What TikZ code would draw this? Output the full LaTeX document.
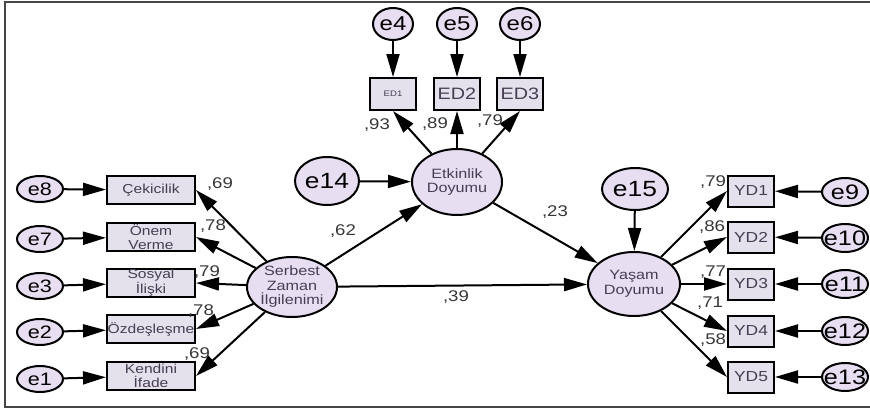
\documentclass[tikz,border=0pt]{standalone}
\usepackage{fontspec}
\setmainfont[FakeStretch=1.2]{Liberation Sans}
\usetikzlibrary{shapes.geometric,arrows.meta}
\definecolor{ellfill}{RGB}{232,222,242}
\definecolor{boxfill}{RGB}{228,224,236}
\definecolor{txt}{RGB}{70,62,82}
\definecolor{coefc}{RGB}{55,55,55}
\definecolor{framec}{RGB}{70,70,70}
\tikzset{
  lat/.style={ellipse, draw, line width=2pt, fill=ellfill, inner sep=0pt, align=center, text=txt, font=\fontsize{13.5}{14.5}\selectfont},
  err/.style={ellipse, draw, line width=2pt, fill=ellfill, inner sep=0pt, minimum width=46pt, minimum height=26pt, font=\fontsize{18}{18}\selectfont},
  obs/.style={rectangle, draw, line width=2pt, fill=boxfill, inner sep=0pt},
  btxt/.style={text=txt, align=center, font=\fontsize{13}{13.5}\selectfont},
  ytxt/.style={text=txt, align=center, font=\fontsize{14.5}{14.5}\selectfont},
  etxt/.style={font=\fontsize{21}{21}\selectfont},
  coef/.style={text=coefc, font=\fontsize{15.5}{15.5}\selectfont, inner sep=0pt},
  arr/.style={-{Triangle[length=23pt,width=13pt]}, line width=2pt},
}
\begin{document}
\begin{tikzpicture}[x=1pt,y=-1pt]
\useasboundingbox (0,0) rectangle (870,410);
% frame
\draw[framec, line width=2.2pt] (870,2) -- (5,2) -- (5,407) -- (870,407);

% latent variables
\node[lat, minimum width=90pt, minimum height=60pt] (sz) at (292,287) {Serbest\\Zaman\\İlgilenimi};
\node[lat, minimum width=90pt, minimum height=66pt] (ed) at (457,182) {Etkinlik\\Doyumu};
\node[lat, minimum width=92pt, minimum height=64pt] (yd) at (634,284) {Yaşam\\Doyumu};

% disturbances
\node[err, minimum width=64pt, minimum height=48pt, font=\fontsize{22}{22}\selectfont] (e14) at (327,181) {e14};
\node[err, minimum width=66pt, minimum height=42pt, font=\fontsize{22}{22}\selectfont] (e15) at (635,189) {e15};

% ED indicators
\node[obs, minimum width=46pt, minimum height=32pt, label={[btxt, font=\fontsize{8}{8}\selectfont]center:ED1}] (ed1) at (393,94) {};
\node[obs, minimum width=46pt, minimum height=32pt, label={[ytxt, font=\fontsize{16.5}{16.5}\selectfont]center:ED2}] (ed2) at (457,94) {};
\node[obs, minimum width=46pt, minimum height=32pt, label={[ytxt, font=\fontsize{16.5}{16.5}\selectfont]center:ED3}] (ed3) at (520,94) {};
\node[err, minimum width=40pt, minimum height=32pt, font=\fontsize{20}{20}\selectfont] (e4) at (393,24) {e4};
\node[err, minimum width=40pt, minimum height=32pt, font=\fontsize{20}{20}\selectfont] (e5) at (457,24) {e5};
\node[err, minimum width=40pt, minimum height=32pt, font=\fontsize{20}{20}\selectfont] (e6) at (520,24) {e6};

% left indicators
\node[obs, minimum width=88pt, minimum height=28pt, label={[btxt]center:Çekicilik}] (b1) at (151,190) {};
\node[obs, minimum width=88pt, minimum height=28pt, label={[btxt]center:Önem\\Verme}] (b2) at (151,237) {};
\node[obs, minimum width=88pt, minimum height=28pt, label={[btxt]center:Sosyal\\İlişki}] (b3) at (151,283) {};
\node[obs, minimum width=88pt, minimum height=28pt, label={[btxt]center:Özdeşleşme}] (b4) at (151,329) {};
\node[obs, minimum width=88pt, minimum height=28pt, label={[btxt]center:Kendini\\İfade}] (b5) at (151,376) {};
\node[err] (e8) at (40,189) {e8};
\node[err] (e7) at (40,239) {e7};
\node[err] (e3) at (40,286) {e3};
\node[err] (e2) at (40,332) {e2};
\node[err] (e1) at (40,379) {e1};

% right indicators
\node[obs, minimum width=46pt, minimum height=31pt, label={[ytxt]center:YD1}] (y1) at (751,191) {};
\node[obs, minimum width=46pt, minimum height=31pt, label={[ytxt]center:YD2}] (y2) at (751,237) {};
\node[obs, minimum width=46pt, minimum height=31pt, label={[ytxt]center:YD3}] (y3) at (751,284) {};
\node[obs, minimum width=46pt, minimum height=31pt, label={[ytxt]center:YD4}] (y4) at (751,331) {};
\node[obs, minimum width=46pt, minimum height=31pt, label={[ytxt]center:YD5}] (y5) at (751,377) {};
\node[err, minimum height=28pt, label={[etxt]center:e9}] (e9) at (845,192) {};
\node[err, minimum height=28pt, label={[etxt]center:e10}] (e10) at (845,238) {};
\node[err, minimum height=28pt, label={[etxt]center:e11}] (e11) at (845,284) {};
\node[err, minimum height=28pt, label={[etxt]center:e12}] (e12) at (845,331) {};
\node[err, minimum height=28pt, label={[etxt]center:e13}] (e13) at (845,377) {};

% arrows: errors to indicators
\draw[arr] (e8) -- (b1);
\draw[arr] (e7) -- (b2);
\draw[arr] (e3) -- (b3);
\draw[arr] (e2) -- (b4);
\draw[arr] (e1) -- (b5);
\draw[arr] (e4) -- (ed1);
\draw[arr] (e5) -- (ed2);
\draw[arr] (e6) -- (ed3);
\draw[arr] (e9) -- (y1);
\draw[arr] (e10) -- (y2);
\draw[arr] (e11) -- (y3);
\draw[arr] (e12) -- (y4);
\draw[arr] (e13) -- (y5);
\draw[arr] (e14) -- (ed);
\draw[arr] (e15) -- (yd);

% loadings
\draw[arr] (sz) -- (b1.east);
\draw[arr] (sz) -- (b2.east);
\draw[arr] (sz) -- (b3.east);
\draw[arr] (sz) -- (b4.east);
\draw[arr] (sz) -- (b5.east);
\draw[arr] (ed) -- (ed1.south);
\draw[arr] (ed) -- (ed2.south);
\draw[arr] (ed) -- (ed3.south);
\draw[arr] (yd) -- (y1.west);
\draw[arr] (yd) -- (y2.west);
\draw[arr] (yd) -- (y3.west);
\draw[arr] (yd) -- (y4.west);
\draw[arr] (yd) -- (y5.west);

% structural paths
\draw[arr] (sz) -- (ed);
\draw[arr] (sz) -- (yd);
\draw[arr] (ed) -- (yd);

% coefficients
\node[coef] (c1) at (220,184) {,69};
\node[coef] (c2) at (213,226) {,78};
\node[coef] (c3) at (207,272) {,79};
\node[coef] (c4) at (201,311) {,78};
\node[coef] (c5) at (197,354) {,69};
\node[coef] (c6) at (343,231) {,62};
\node[coef] (c7) at (456,297) {,39};
\node[coef] (c8) at (555,212) {,23};
\node[coef] (c9) at (377,125) {,93};
\node[coef] (c10) at (435,124) {,89};
\node[coef] (c11) at (490,121) {,79};
\node[coef] (c12) at (713,182) {,79};
\node[coef] (c13) at (712,227) {,86};
\node[coef] (c14) at (713,272) {,77};
\node[coef] (c15) at (710,303) {,71};
\node[coef] (c16) at (713,340) {,58};
\end{tikzpicture}
\end{document}
